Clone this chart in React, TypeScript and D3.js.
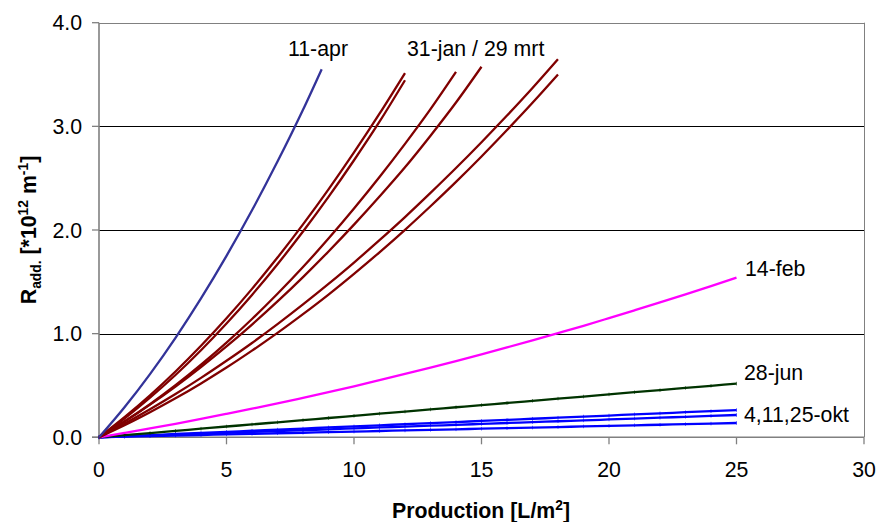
import React from "react";
import * as d3 from "d3";

// Axis ticks
const X_TICKS = [0, 5, 10, 15, 20, 25, 30];
const Y_TICKS = [0, 1, 2, 3, 4];

// Production [L/m2] positions for each series
const X_APR = [0, 1, 2, 3, 4, 5, 6, 7, 8, 8.73];
const X_TO_12 = d3.range(0, 13);
const X_TO_14 = d3.range(0, 15);
const X_TO_15 = d3.range(0, 16);
const X_TO_18 = d3.range(0, 19);
const X_TO_25 = d3.range(0, 26);

// R_add values [*10^12 m^-1]
const apr11 = [0, 0.29, 0.61, 0.96, 1.34, 1.75, 2.19, 2.66, 3.16, 3.55];
const janMrt1 = [0, 0.194, 0.405, 0.635, 0.883, 1.148, 1.432, 1.734, 2.054, 2.392, 2.748, 3.122, 3.514];
const janMrt2 = [0, 0.181, 0.382, 0.601, 0.84, 1.098, 1.374, 1.67, 1.985, 2.319, 2.673, 3.045, 3.445];
const janMrt3 = [0, 0.152, 0.319, 0.502, 0.7, 0.913, 1.141, 1.385, 1.643, 1.917, 2.207, 2.511, 2.831, 3.166, 3.525];
const janMrt4 = [0, 0.152, 0.315, 0.49, 0.678, 0.877, 1.088, 1.311, 1.546, 1.793, 2.052, 2.323, 2.605, 2.91, 3.23, 3.575];
const janMrt5 = [0, 0.131, 0.27, 0.417, 0.573, 0.738, 0.91, 1.092, 1.282, 1.48, 1.686, 1.902, 2.125, 2.358, 2.598, 2.847, 3.104, 3.37, 3.648];
const janMrt6 = [0, 0.116, 0.242, 0.376, 0.52, 0.673, 0.836, 1.007, 1.188, 1.377, 1.577, 1.785, 2.002, 2.229, 2.464, 2.709, 2.964, 3.227, 3.5];
const feb14 = [0, 0.042, 0.085, 0.13, 0.177, 0.226, 0.276, 0.327, 0.381, 0.436, 0.492, 0.551, 0.611, 0.672, 0.735, 0.8, 0.867, 0.935, 1.005, 1.076, 1.15, 1.225, 1.301, 1.379, 1.459, 1.54];
const jun28 = [0, 0.021, 0.041, 0.062, 0.083, 0.104, 0.124, 0.145, 0.166, 0.186, 0.207, 0.228, 0.248, 0.269, 0.29, 0.311, 0.331, 0.352, 0.373, 0.393, 0.414, 0.435, 0.455, 0.476, 0.497, 0.518];
const oktA = [0, 0.011, 0.021, 0.032, 0.042, 0.053, 0.063, 0.074, 0.084, 0.095, 0.105, 0.116, 0.126, 0.137, 0.147, 0.158, 0.168, 0.179, 0.189, 0.2, 0.21, 0.221, 0.231, 0.242, 0.252, 0.263];
const oktB = [0, 0.009, 0.017, 0.026, 0.034, 0.043, 0.052, 0.06, 0.069, 0.077, 0.086, 0.095, 0.103, 0.112, 0.12, 0.129, 0.138, 0.146, 0.155, 0.163, 0.172, 0.181, 0.189, 0.198, 0.206, 0.215];
const oktC = [0, 0.006, 0.011, 0.017, 0.022, 0.028, 0.033, 0.039, 0.044, 0.05, 0.055, 0.061, 0.066, 0.072, 0.077, 0.083, 0.088, 0.094, 0.099, 0.105, 0.11, 0.116, 0.121, 0.127, 0.132, 0.138];

const SERIES = [
  { xs: X_TO_25, ys: oktC, color: "#0000ff", ticks: true },
  { xs: X_TO_25, ys: oktB, color: "#0000ff", ticks: true },
  { xs: X_TO_25, ys: oktA, color: "#0000ff", ticks: true },
  { xs: X_TO_25, ys: jun28, color: "#003300", ticks: true },
  { xs: X_TO_25, ys: feb14, color: "#ff00ff", ticks: false },
  { xs: X_TO_18, ys: janMrt6, color: "#800000", ticks: false },
  { xs: X_TO_18, ys: janMrt5, color: "#800000", ticks: false },
  { xs: X_TO_15, ys: janMrt4, color: "#800000", ticks: false },
  { xs: X_TO_14, ys: janMrt3, color: "#800000", ticks: false },
  { xs: X_TO_12, ys: janMrt2, color: "#800000", ticks: false },
  { xs: X_TO_12, ys: janMrt1, color: "#800000", ticks: false },
  { xs: X_APR, ys: apr11, color: "#333399", ticks: false },
];

const LABELS = [
  { text: "11-apr", x: 288, y: 56 },
  { text: "31-jan / 29 mrt", x: 407, y: 56 },
  { text: "14-feb", x: 745, y: 276 },
  { text: "28-jun", x: 744, y: 380 },
  { text: "4,11,25-okt", x: 744, y: 422 },
];

const W = 880;
const H = 522;
const FONT = "'Liberation Sans', Arial, sans-serif";
const FS = 21.3;

export default function App() {
  const x = d3.scaleLinear().domain([0, 30]).range([99, 864]);
  const y = d3.scaleLinear().domain([0, 4]).range([437.3, 22.7]);
  const line = d3
    .line<[number, number]>()
    .x((d) => x(d[0]))
    .y((d) => y(d[1]))
    .curve(d3.curveMonotoneX);

  const x0 = x(0);
  const x1 = x(30);
  const yb = y(0);
  const yt = y(4);

  return (
    <svg
      width={W}
      height={H}
      style={{ position: "absolute", left: 0, top: 0, background: "#fff" }}
      fontFamily={FONT}
    >
      <rect x={0} y={0} width={W} height={H} fill="#fff" />
      {/* horizontal gridlines */}
      {Y_TICKS.filter((t) => t > 0 && t < 4).map((t) => (
        <line key={t} x1={x0} x2={x1} y1={Math.round(y(t)) + 0.5} y2={Math.round(y(t)) + 0.5} stroke="#000" strokeWidth={1} />
      ))}
      {/* plot frame */}
      <line x1={x0} x2={x1} y1={Math.round(yt) + 0.5} y2={Math.round(yt) + 0.5} stroke="#808080" strokeWidth={1} />
      <line x1={Math.round(x1) + 0.5} x2={Math.round(x1) + 0.5} y1={yt} y2={yb} stroke="#808080" strokeWidth={1} />
      {/* axes */}
      <line x1={x0} x2={x0} y1={yt} y2={yb} stroke="#808080" strokeWidth={1.6} />
      <line x1={x0 - 7} x2={x1} y1={yb} y2={yb} stroke="#808080" strokeWidth={1.6} />
      {Y_TICKS.map((t) => (
        <g key={t}>
          <line x1={x0 - 7} x2={x0} y1={y(t)} y2={y(t)} stroke="#808080" strokeWidth={1.3} />
          <text x={82} y={y(t)} dy="0.36em" textAnchor="end" fontSize={FS} fill="#000">
            {t.toFixed(1)}
          </text>
        </g>
      ))}
      {X_TICKS.map((t) => (
        <g key={t}>
          <line x1={x(t)} x2={x(t)} y1={yb} y2={yb + 7} stroke="#808080" strokeWidth={1.3} />
          <text x={x(t)} y={477} textAnchor="middle" fontSize={FS} fill="#000">
            {t}
          </text>
        </g>
      ))}
      {/* series */}
      {SERIES.map((s, i) => {
        const pts = s.xs.map((v, j) => [v, s.ys[j]] as [number, number]);
        return (
          <g key={i}>
            <path d={line(pts) || ""} fill="none" stroke={s.color} strokeWidth={2.3} />
            {s.ticks &&
              pts.map((p, j) => (
                <line
                  key={j}
                  x1={x(p[0])}
                  x2={x(p[0])}
                  y1={y(p[1]) - 1.8}
                  y2={y(p[1]) + 1.8}
                  stroke={s.color}
                  strokeWidth={0.8}
                  strokeOpacity={0.7}
                />
              ))}
          </g>
        );
      })}
      {/* series labels */}
      {LABELS.map((l) => (
        <text key={l.text} x={l.x} y={l.y} fontSize={FS} fill="#000">
          {l.text}
        </text>
      ))}
      {/* axis titles */}
      <text x={481} y={518} textAnchor="middle" fontSize={FS} fontWeight="bold" fill="#000">
        Production [L/m
        <tspan fontSize={FS * 0.65} dy={-8}>2</tspan>
        <tspan dy={8}>]</tspan>
      </text>
      <text
        transform="translate(36,230) rotate(-90)"
        textAnchor="middle"
        fontSize={FS}
        fontWeight="bold"
        fill="#000"
      >
        R
        <tspan fontSize={FS * 0.65} dy={5}>add.</tspan>
        <tspan dy={-5}> [*10</tspan>
        <tspan fontSize={FS * 0.65} dy={-8}>12</tspan>
        <tspan dy={8}> m</tspan>
        <tspan fontSize={FS * 0.65} dy={-8}>-1</tspan>
        <tspan dy={8}>]</tspan>
      </text>
    </svg>
  );
}
